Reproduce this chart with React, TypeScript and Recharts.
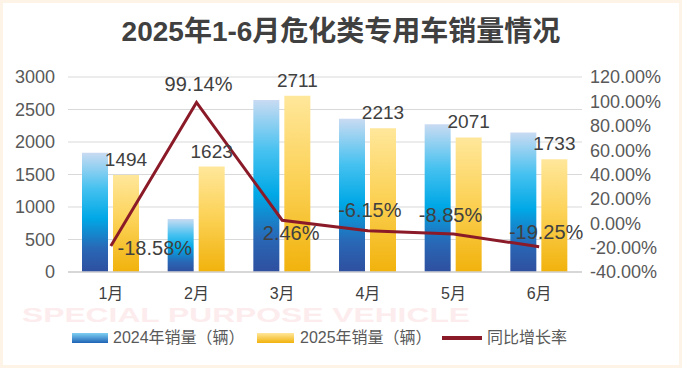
import React from 'react';
import { ComposedChart, Bar, Line, XAxis, YAxis, CartesianGrid, LabelList } from 'recharts';

const categories = ['1月', '2月', '3月', '4月', '5月', '6月'];
const sales2024 = [1835, 815, 2646, 2358, 2272, 2146];
const sales2025 = [1494, 1623, 2711, 2213, 2071, 1733];
const growth = [-18.58, 99.14, 2.46, -6.15, -8.85, -19.25];
const leftTicks = [0, 500, 1000, 1500, 2000, 2500, 3000];
const rightTicks = [-40, -20, 0, 20, 40, 60, 80, 100, 120];
const legendNames = ['2024年销量（辆）', '2025年销量（辆）', '同比增长率'];

// label placement (dx, dy of label centre relative to the point)
const growthLabelOffsets: [number, number][] = [
  [44, 2], [2, -18], [9, 13], [2, -21], [-3, -19], [7, -15],
];

const data = categories.map((c, i) => ({
  name: c,
  s2024: sales2024[i],
  s2025: sales2025[i],
  g: growth[i],
}));

const FONT = '"Liberation Sans", Arial, "Noto Sans CJK SC", sans-serif';

const GrowthLabel = (props: any) => {
  const { x, y, index, value } = props;
  const [dx, dy] = growthLabelOffsets[index] || [0, -15];
  return (
    <text
      x={x + dx}
      y={y + dy}
      textAnchor="middle"
      dominantBaseline="central"
      fontSize={20}
      fill="#404040"
      fontFamily={FONT}
    >
      {Number(value).toFixed(2) + '%'}
    </text>
  );
};

export default function App() {
  const legendText: React.CSSProperties = {
    position: 'absolute',
    top: 330,
    fontSize: 16,
    lineHeight: '16px',
    color: '#595959',
    whiteSpace: 'nowrap',
  };
  return (
    <div
      style={{
        position: 'fixed',
        left: 0,
        top: 0,
        width: 682,
        height: 368,
        background: '#ffffff',
        fontFamily: FONT,
        overflow: 'hidden',
      }}
    >
      <div
        style={{
          position: 'absolute',
          inset: 0,
          border: '3px solid #fdf3e6',
          pointerEvents: 'none',
        }}
      />
      <svg width={682} height={368} style={{ position: 'absolute', left: 0, top: 0 }}>
        <text
          x={22}
          y={322}
          fontSize={20}
          fontWeight="bold"
          fontFamily={FONT}
          fill="#fdeced"
          textLength={448}
          lengthAdjust="spacingAndGlyphs"
        >
          SPECIAL PURPOSE VEHICLE
        </text>
      </svg>
      <div
        style={{
          position: 'absolute',
          left: 0,
          top: 14,
          width: 682,
          textAlign: 'center',
          fontSize: 28,
          lineHeight: '36px',
          fontWeight: 'bold',
          color: '#404040',
          whiteSpace: 'nowrap',
        }}
      >
        2025年1-6月危化类专用车销量情况
      </div>
      <div style={{ position: 'absolute', left: 0, top: 0 }}>
        <ComposedChart
          width={682}
          height={368}
          data={data}
          margin={{ top: 77, right: 8, bottom: 66, left: 8 }}
          barGap={5}
        >
          <defs>
            <linearGradient id="gBlue" x1="0" y1="0" x2="0" y2="1">
              <stop offset="0%" stopColor="#c9dbf2" />
              <stop offset="30%" stopColor="#45c1f0" />
              <stop offset="55%" stopColor="#00a8e6" />
              <stop offset="80%" stopColor="#2868b6" />
              <stop offset="100%" stopColor="#2f4f9f" />
            </linearGradient>
            <linearGradient id="gYellow" x1="0" y1="0" x2="0" y2="1">
              <stop offset="0%" stopColor="#ffe79b" />
              <stop offset="45%" stopColor="#fcd35a" />
              <stop offset="100%" stopColor="#f1b20c" />
            </linearGradient>
          </defs>
          <CartesianGrid vertical={false} stroke="#d9d9d9" strokeWidth={1.2} yAxisId="left" />
          <XAxis
            dataKey="name"
            axisLine={{ stroke: '#d0d0d0', strokeWidth: 1.5 }}
            tickLine={false}
            tickMargin={10}
            height={30}
            tick={{ fontSize: 16, fill: '#404040', fontFamily: FONT }}
            interval={0}
          />
          <YAxis
            yAxisId="left"
            domain={[0, 3000]}
            ticks={leftTicks}
            axisLine={false}
            tickLine={false}
            width={60}
            tickMargin={7}
            tick={{ fontSize: 18, fill: '#595959', fontFamily: FONT }}
            interval={0}
          />
          <YAxis
            yAxisId="right"
            orientation="right"
            domain={[-40, 120]}
            ticks={rightTicks}
            axisLine={false}
            tickLine={false}
            width={92}
            tickMargin={2}
            tick={{ fontSize: 18, fill: '#595959', fontFamily: FONT }}
            tickFormatter={(v: number) => v.toFixed(2) + '%'}
            interval={0}
          />
          <Bar yAxisId="left" dataKey="s2024" fill="url(#gBlue)" barSize={26} isAnimationActive={false} />
          <Bar yAxisId="left" dataKey="s2025" fill="url(#gYellow)" barSize={26} isAnimationActive={false}>
            <LabelList
              dataKey="s2025"
              position="top"
              offset={9}
              style={{ fontSize: 19, fill: '#404040', fontFamily: FONT }}
            />
          </Bar>
          <Line
            yAxisId="right"
            dataKey="g"
            type="linear"
            stroke="#8b1a28"
            strokeWidth={3}
            dot={false}
            activeDot={false}
            isAnimationActive={false}
          >
            <LabelList dataKey="g" content={GrowthLabel} />
          </Line>
        </ComposedChart>
      </div>
      <div style={{ position: 'absolute', left: 72, top: 333, width: 36, height: 10, background: 'linear-gradient(#7fd0f3, #1f63b5)' }} />
      <div style={{ ...legendText, left: 113 }}>{legendNames[0]}</div>
      <div style={{ position: 'absolute', left: 257, top: 333, width: 37, height: 10, background: 'linear-gradient(#ffe79b, #f1b20c)' }} />
      <div style={{ ...legendText, left: 300 }}>{legendNames[1]}</div>
      <div style={{ position: 'absolute', left: 442, top: 336, width: 40, height: 4, background: '#8b1a28' }} />
      <div style={{ ...legendText, left: 487 }}>{legendNames[2]}</div>
    </div>
  );
}
